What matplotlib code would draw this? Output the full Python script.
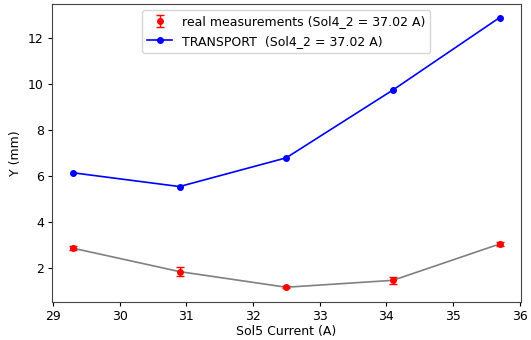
import matplotlib
matplotlib.use("Agg")
import matplotlib.pyplot as plt

# Sol5 scan at Sol4_2 = 37.02 A
sol5_current = [29.3, 30.9, 32.5, 34.1, 35.7]
y_measured = [2.87, 1.85, 1.17, 1.47, 3.05]
y_err = [0.10, 0.20, 0.05, 0.15, 0.10]
y_transport = [6.15, 5.55, 6.80, 9.75, 12.90]

fig = plt.figure(figsize=(5.31, 3.40), dpi=100)
ax = fig.add_axes([0.097, 0.112, 0.884, 0.876])

ax.plot(sol5_current, y_measured, color="gray", lw=1.2)
meas = ax.errorbar(sol5_current, y_measured, yerr=y_err, fmt="o", color="red",
                   ms=4, capsize=3, elinewidth=1,
                   label="real measurements (Sol4_2 = 37.02 A)")
trans, = ax.plot(sol5_current, y_transport, "o-", color="blue", ms=4, lw=1.2,
                 label="TRANSPORT  (Sol4_2 = 37.02 A)")

ax.set_xlabel("Sol5 Current (A)", fontsize=9, labelpad=1.5)
ax.set_ylabel("Y (mm)", fontsize=9)
ax.tick_params(labelsize=9, length=3, pad=2.5)
for s in ax.spines.values():
    s.set_color("#444444")
ax.legend(handles=[meas, trans], loc="upper center", fontsize=9)

fig.savefig("out.png", dpi=100)
